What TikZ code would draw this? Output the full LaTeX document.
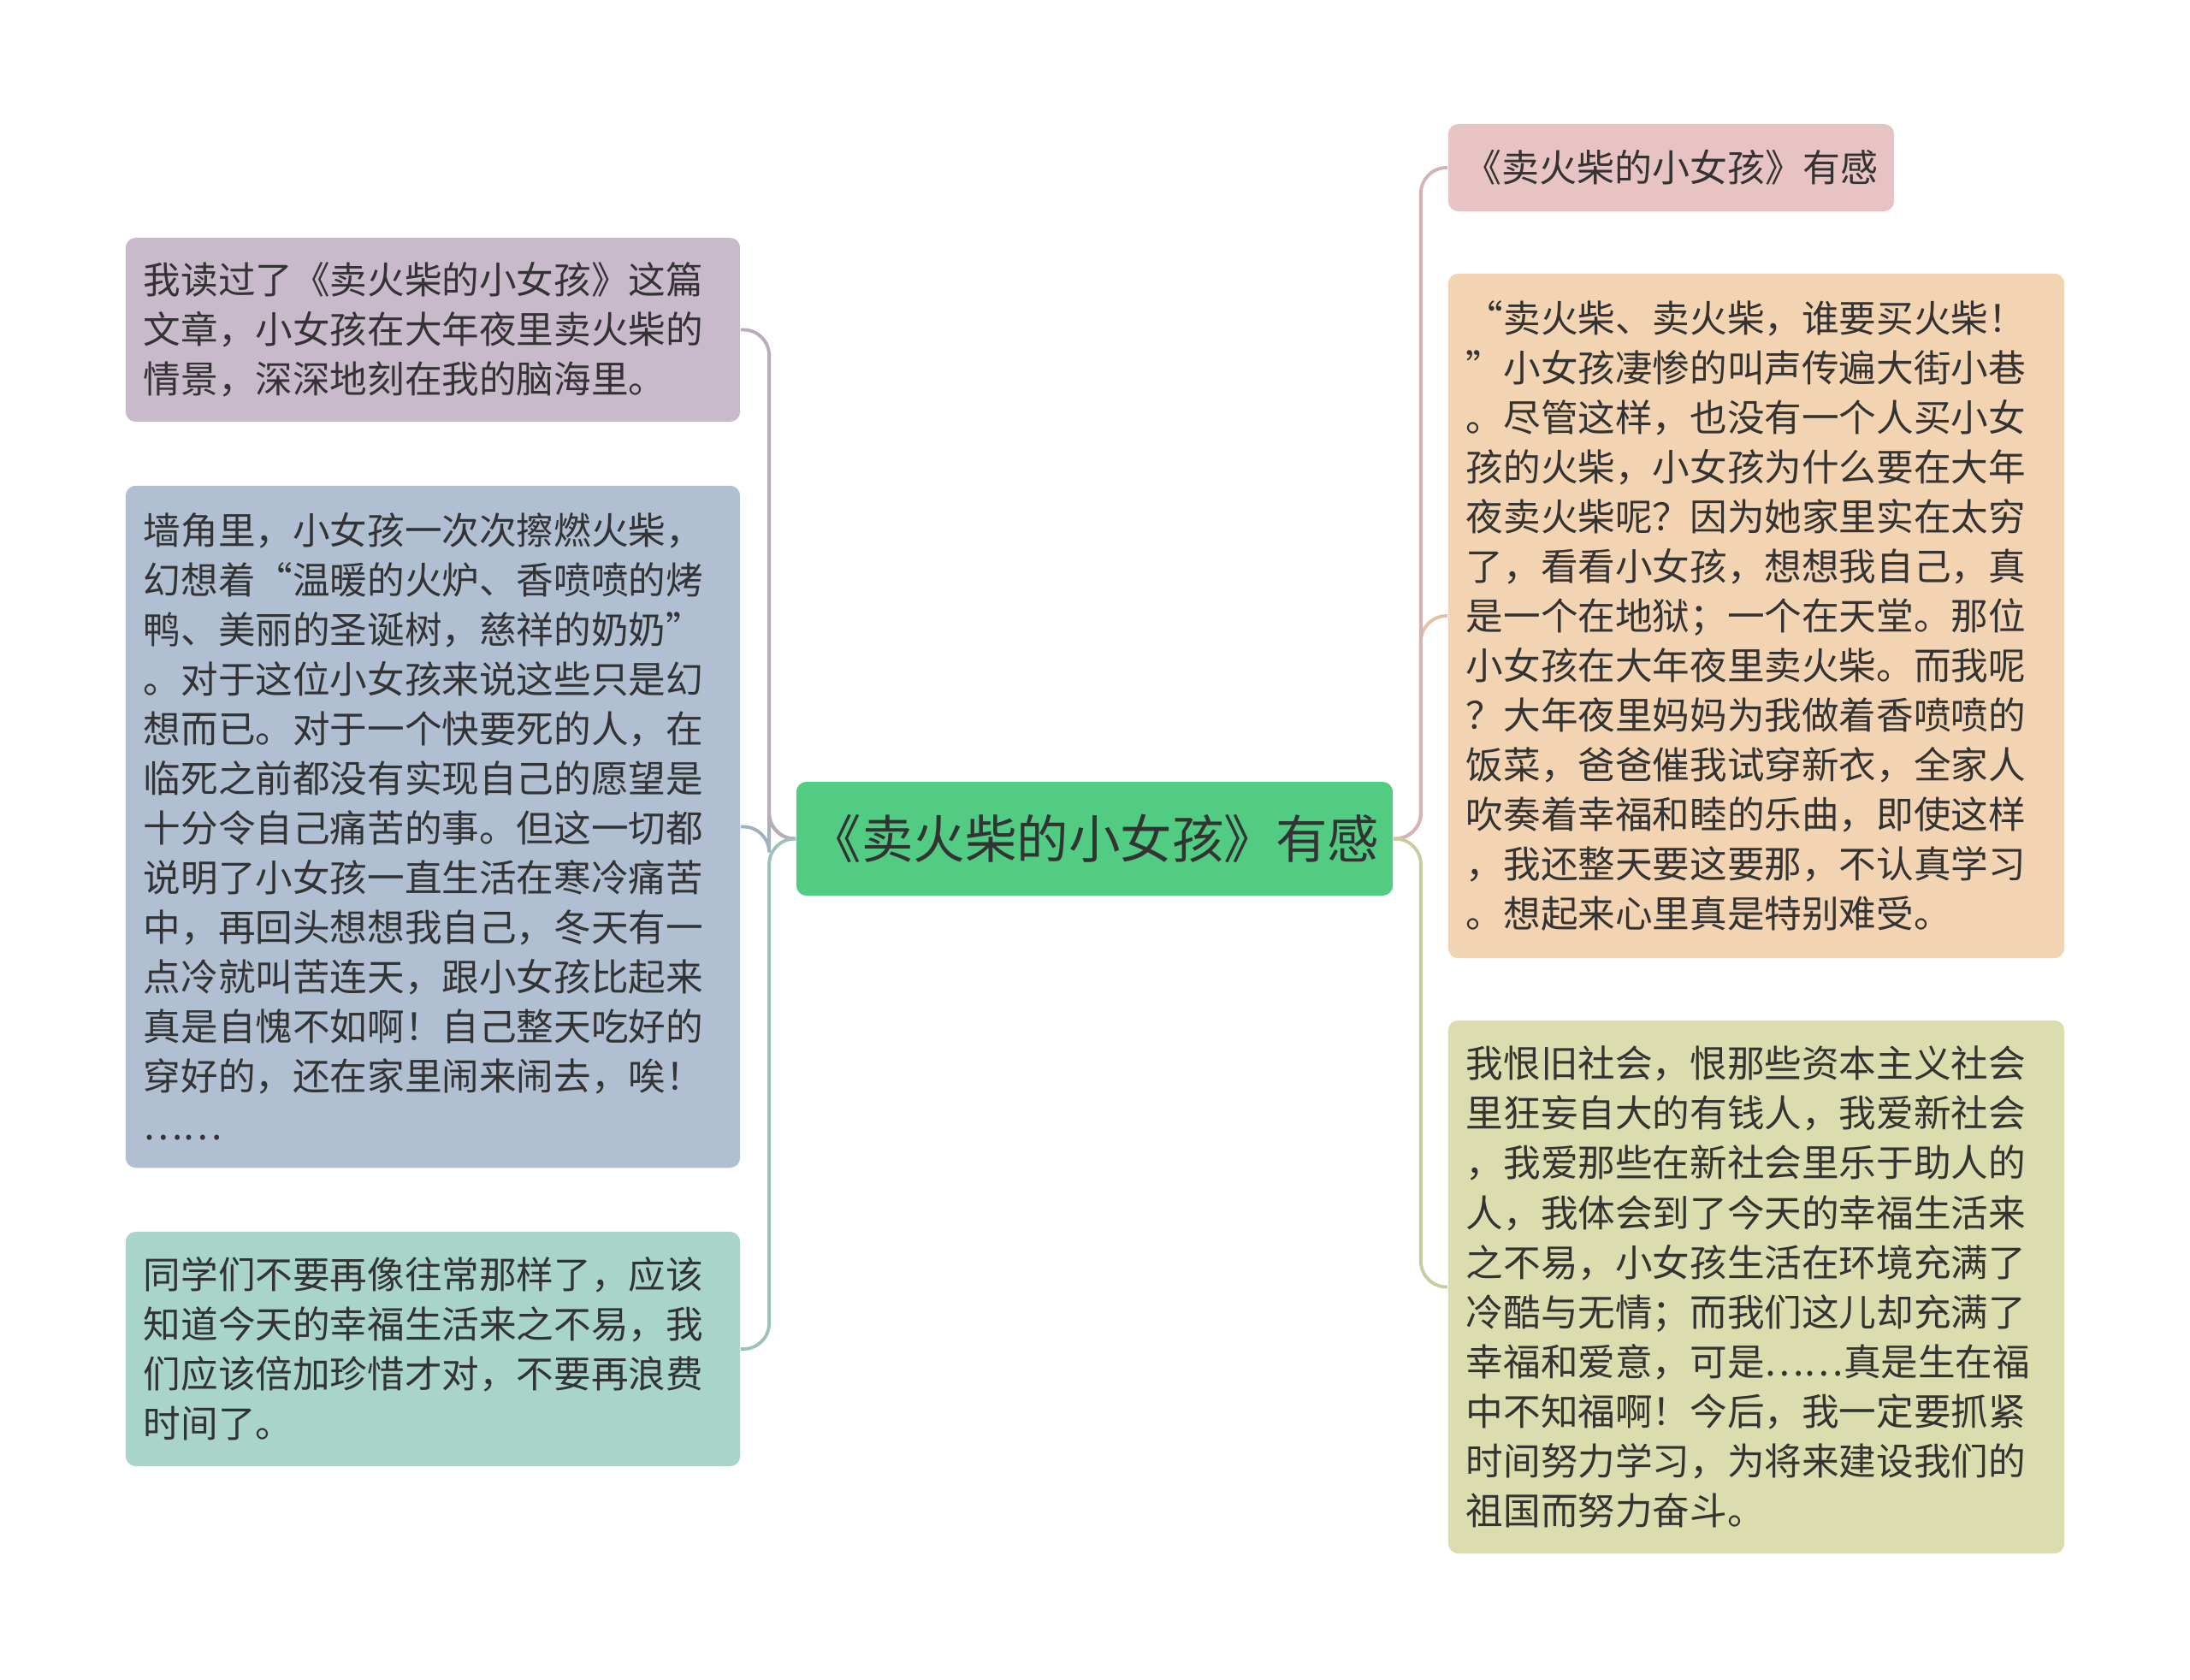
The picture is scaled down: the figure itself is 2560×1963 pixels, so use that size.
\documentclass[tikz,border=0pt]{standalone}
\usepackage{fontspec}
\setmainfont{Noto Sans CJK SC}
\usepackage{xcolor}
\usetikzlibrary{positioning}

\definecolor{hubgreen}{HTML}{52CC82}
\definecolor{inkgray}{HTML}{333333}
\definecolor{mauve}{HTML}{C9BACB}
\definecolor{steel}{HTML}{B0BFD1}
\definecolor{mint}{HTML}{A8D4C9}
\definecolor{rose}{HTML}{E8C3C4}
\definecolor{peach}{HTML}{F3D4B2}
\definecolor{olive}{HTML}{DBDDAE}

\begin{document}
\begin{tikzpicture}[
    x=0.01cm, y=-0.01cm,
    hub/.style={rectangle, fill=hubgreen, rounded corners=0.12cm, minimum width=6.97cm, minimum height=1.33cm, inner sep=0pt, font=\fontsize{17.2pt}{20pt}\selectfont, text=inkgray},
    note/.style={rectangle, fill=#1, rounded corners=0.12cm, inner xsep=0.21cm, inner ysep=0pt, align=left, font=\fontsize{12.4pt}{16.5pt}\selectfont, text=inkgray},
    link/.style={draw=#1!92!black, line width=1.1pt, rounded corners=0.3cm}
]
% Canvas
\fill[white] (0,0) rectangle (2560,1963);
\useasboundingbox (0,0) rectangle (2560,1963);

% Central topic
\node[hub] (hub) at (1279.5,980.5) {《卖火柴的小女孩》有感};

% Left branches
\node[note=mauve, text width=6.76cm, minimum height=2.15cm] (l1) at (506,385.5) {我读过了《卖火柴的小女孩》这篇\\文章，小女孩在大年夜里卖火柴的\\情景，深深地刻在我的脑海里。};
\node[note=steel, text width=6.76cm, minimum height=7.97cm] (l2) at (506,966.5) {墙角里，小女孩一次次擦燃火柴，\\幻想着“温暖的火炉、香喷喷的烤\\鸭、美丽的圣诞树，慈祥的奶奶”\\。对于这位小女孩来说这些只是幻\\想而已。对于一个快要死的人，在\\临死之前都没有实现自己的愿望是\\十分令自己痛苦的事。但这一切都\\说明了小女孩一直生活在寒冷痛苦\\中，再回头想想我自己，冬天有一\\点冷就叫苦连天，跟小女孩比起来\\真是自愧不如啊！自己整天吃好的\\穿好的，还在家里闹来闹去，唉！\\……};
\node[note=mint, text width=6.76cm, minimum height=2.74cm] (l3) at (506,1577) {同学们不要再像往常那样了，应该\\知道今天的幸福生活来之不易，我\\们应该倍加珍惜才对，不要再浪费\\时间了。};

% Right branches
\node[note=rose, align=center, minimum width=5.21cm, minimum height=1.02cm, inner xsep=0pt, font=\fontsize{12.5pt}{16pt}\selectfont] (r1) at (1953.5,196) {《卖火柴的小女孩》有感};
\node[note=peach, text width=6.78cm, minimum height=8.0cm] (r2) at (2053,720) {“卖火柴、卖火柴，谁要买火柴！\\”小女孩凄惨的叫声传遍大街小巷\\。尽管这样，也没有一个人买小女\\孩的火柴，小女孩为什么要在大年\\夜卖火柴呢？因为她家里实在太穷\\了，看看小女孩，想想我自己，真\\是一个在地狱；一个在天堂。那位\\小女孩在大年夜里卖火柴。而我呢\\？大年夜里妈妈为我做着香喷喷的\\饭菜，爸爸催我试穿新衣，全家人\\吹奏着幸福和睦的乐曲，即使这样\\，我还整天要这要那，不认真学习\\。想起来心里真是特别难受。};
\node[note=olive, text width=6.78cm, minimum height=6.23cm] (r3) at (2053,1504.5) {我恨旧社会，恨那些资本主义社会\\里狂妄自大的有钱人，我爱新社会\\，我爱那些在新社会里乐于助人的\\人，我体会到了今天的幸福生活来\\之不易，小女孩生活在环境充满了\\冷酷与无情；而我们这儿却充满了\\幸福和爱意，可是……真是生在福\\中不知福啊！今后，我一定要抓紧\\时间努力学习，为将来建设我们的\\祖国而努力奋斗。};

% Links
\draw[link=steel] (hub.west) -- ++(-31,0) |- (l2.east);
\draw[link=mauve] (hub.west) -- ++(-31,0) |- (l1.east);
\draw[link=mint] (hub.west) -- ++(-31,0) |- (l3.east);
\draw[link=peach] (hub.east) -- ++(32,0) |- (r2.west);
\draw[link=rose] (hub.east) -- ++(32,0) |- (r1.west);
\draw[link=olive] (hub.east) -- ++(32,0) |- (r3.west);
\end{tikzpicture}
\end{document}
